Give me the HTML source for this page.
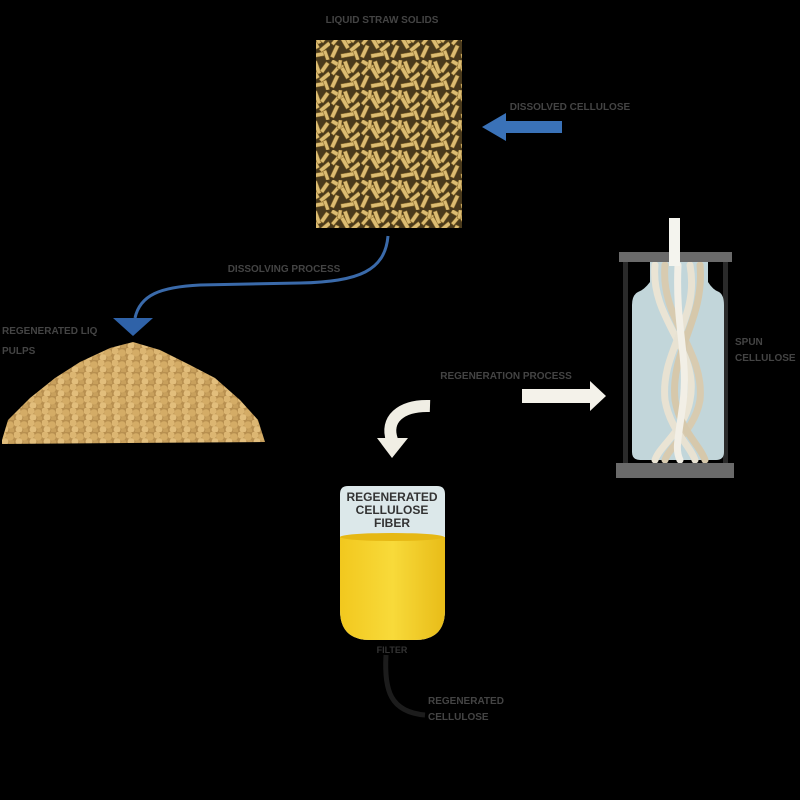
<!DOCTYPE html>
<html><head><meta charset="utf-8"><style>
html,body{margin:0;padding:0;background:#000;width:800px;height:800px;overflow:hidden}
svg{display:block}
text{font-family:"Liberation Sans",sans-serif;font-weight:bold}
</style></head><body>
<svg width="800" height="800" viewBox="0 0 800 800" xmlns="http://www.w3.org/2000/svg">
<defs>
<pattern id="straw" width="30" height="30" patternUnits="userSpaceOnUse">
<rect width="30" height="30" fill="#4a3a1c"/>
<g fill="#dcbc72" stroke="#8a6a2a" stroke-width="0.5">
<rect x="1" y="2" width="13" height="4" transform="rotate(30 7 4)"/>
<rect x="15" y="1" width="4" height="13" transform="rotate(-20 17 7)"/>
<rect x="19" y="15" width="12" height="4" transform="rotate(-40 25 17)"/>
<rect x="3" y="15" width="4" height="13" transform="rotate(25 5 21)"/>
<rect x="9" y="11" width="12" height="4" transform="rotate(60 15 13)"/>
<rect x="11" y="23" width="13" height="4" transform="rotate(-10 17 25)"/>
<rect x="23" y="2" width="4" height="11" transform="rotate(35 25 7)"/>
<rect x="0" y="9" width="10" height="3.5" transform="rotate(-50 5 10)"/>
<rect x="22" y="24" width="10" height="3.5" transform="rotate(70 27 25)"/>
<rect x="8" y="0" width="3.5" height="9" transform="rotate(10 10 4)"/>
</g>
</pattern>
<pattern id="gran" width="14" height="12" patternUnits="userSpaceOnUse">
<rect width="14" height="12" fill="#b89050"/>
<circle cx="3" cy="3" r="3.6" fill="#dcb672"/>
<circle cx="10" cy="5" r="3.8" fill="#d4ac66"/>
<circle cx="5" cy="9.5" r="3.4" fill="#e2be7c"/>
<circle cx="12" cy="11" r="3" fill="#c8a05c"/>
</pattern>
<linearGradient id="yel" x1="0" x2="1"><stop offset="0" stop-color="#f2c81e"/><stop offset="0.5" stop-color="#f8da3a"/><stop offset="1" stop-color="#e8bc18"/></linearGradient>
</defs>

<text x="382" y="23" font-size="10" fill="#444" text-anchor="middle">LIQUID STRAW SOLIDS</text>
<rect x="316" y="40" width="146" height="188" fill="url(#straw)"/>

<text x="570" y="110" font-size="10" fill="#444" text-anchor="middle">DISSOLVED CELLULOSE</text>
<polygon points="562,121 506,121 506,113 482,127 506,141 506,133 562,133" fill="#3a72b8"/>

<text x="284" y="272" font-size="10" fill="#444" text-anchor="middle">DISSOLVING PROCESS</text>
<path d="M388,236 C385,270 360,282 300,283 L200,285 C160,287 140,295 135,318" fill="none" stroke="#3a6aaa" stroke-width="3"/>
<polygon points="113,318 153,318 133,336" fill="#2f62a8"/>

<text x="2" y="334" font-size="10" fill="#444">REGENERATED LIQ</text>
<text x="2" y="354" font-size="10" fill="#444">PULPS</text>
<path d="M2,440 L8,420 L30,398 L55,378 L80,362 L110,348 L133,342 L160,350 L190,365 L215,378 L240,400 L258,420 L265,442 L2,444 Z" fill="url(#gran)"/>

<text x="506" y="379" font-size="10" fill="#444" text-anchor="middle">REGENERATION PROCESS</text>
<polygon points="522,389 590,389 590,381 606,396 590,411 590,403 522,403" fill="#f4f2ea"/>

<path d="M430,406 C400,405 385,420 392,440" fill="none" stroke="#f0eee4" stroke-width="12"/>
<polygon points="377,438 408,438 392,458" fill="#f0eee4"/>

<path d="M340,494 Q340,486 348,486 L437,486 Q445,486 445,494 L445,610 Q445,640 415,640 L370,640 Q340,640 340,610 Z" fill="#dce8ea"/>
<path d="M340,537 Q392,530 445,537 L445,610 Q445,640 415,640 L370,640 Q340,640 340,610 Z" fill="url(#yel)"/>
<ellipse cx="392" cy="537" rx="52" ry="4" fill="#e6b814"/>
<text x="392" y="501" font-size="12" fill="#333" text-anchor="middle">REGENERATED</text>
<text x="392" y="514" font-size="12" fill="#333" text-anchor="middle">CELLULOSE</text>
<text x="392" y="527" font-size="12" fill="#333" text-anchor="middle">FIBER</text>
<text x="392" y="653" font-size="9" fill="#333" text-anchor="middle">FILTER</text>
<path d="M386,655 C384,690 390,712 425,715" fill="none" stroke="#1c1c1c" stroke-width="5"/>
<text x="428" y="704" font-size="10" fill="#444">REGENERATED</text>
<text x="428" y="720" font-size="10" fill="#444">CELLULOSE</text>

<rect x="623" y="262" width="5" height="202" fill="#2a2a2a"/>
<rect x="723" y="262" width="5" height="202" fill="#2a2a2a"/>
<path d="M650,262 L708,262 L708,282 Q713,290 719,292 Q724,295 724,305 L724,452 Q724,460 716,460 L640,460 Q632,460 632,452 L632,305 Q632,295 638,292 Q644,290 650,282 Z" fill="#c2d6da"/>
<g fill="none" stroke-width="7" stroke-linecap="round">
<path d="M655,265 C650,320 700,350 690,400 C685,430 660,445 655,460" stroke="#eae4d4"/>
<path d="M665,265 C660,320 705,350 700,400 C695,430 670,445 665,460" stroke="#d8cbb0"/>
<path d="M690,265 C700,320 660,350 665,400 C670,430 690,445 695,460" stroke="#e8e2d2"/>
<path d="M700,265 C705,320 670,350 675,400 C680,430 700,445 705,460" stroke="#d6c8ab"/>
<path d="M678,265 C675,330 690,360 682,410 C678,440 675,450 680,460" stroke="#f2efe6"/>
</g>
<rect x="619" y="252" width="113" height="10" fill="#6a6a6a"/>
<rect x="616" y="463" width="118" height="15" fill="#6a6a6a"/>
<rect x="669" y="218" width="11" height="48" fill="#f4f4ee"/>
<text x="735" y="345" font-size="10" fill="#444">SPUN</text>
<text x="735" y="361" font-size="10" fill="#444">CELLULOSE</text>
</svg>
</body></html>
